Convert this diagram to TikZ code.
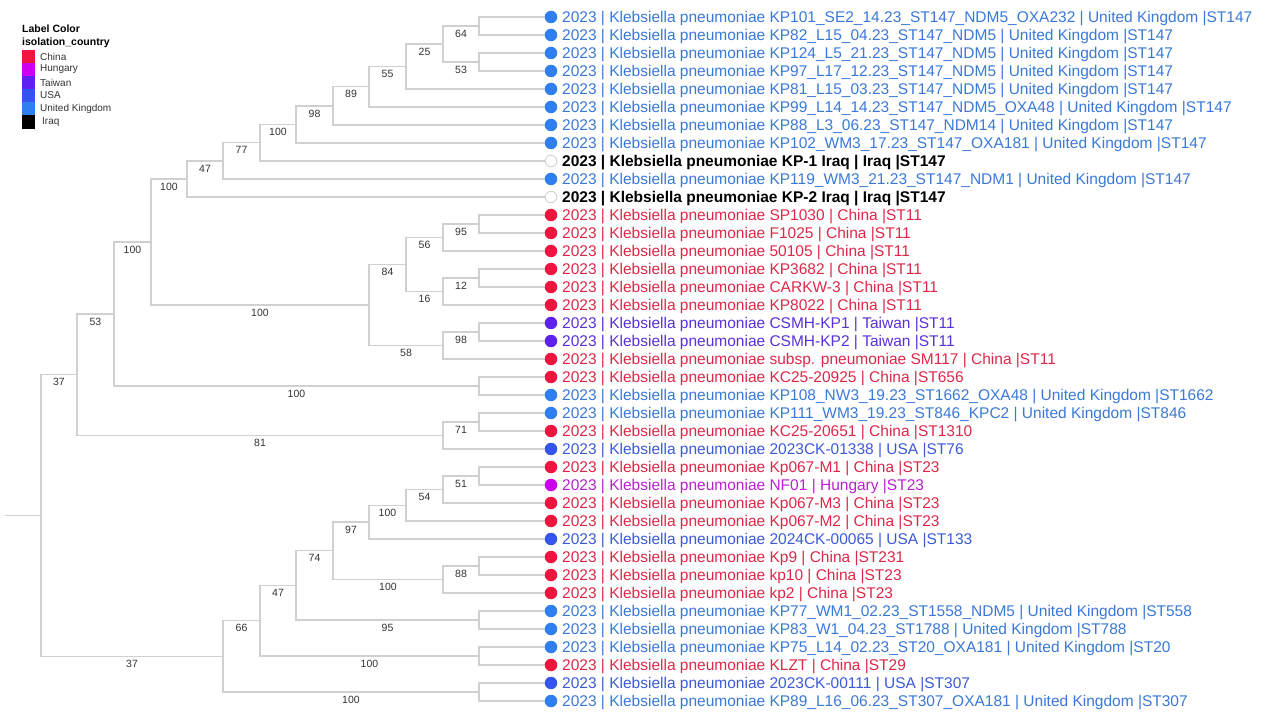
\documentclass[tikz,border=0pt]{standalone}
\usepackage{fontspec}
\setmainfont{Liberation Sans}
\usetikzlibrary{calc}
\pgfdeclarelayer{bg}
\pgfsetlayers{bg,main}
\definecolor{cnD}{HTML}{F01440}
\definecolor{cnT}{HTML}{DC2848}
\definecolor{huD}{HTML}{CC00EE}
\definecolor{huT}{HTML}{B820D0}
\definecolor{twD}{HTML}{6020F0}
\definecolor{twT}{HTML}{5A30D8}
\definecolor{usD}{HTML}{3355EE}
\definecolor{usT}{HTML}{3C5AD8}
\definecolor{ukD}{HTML}{2F7FF0}
\definecolor{ukT}{HTML}{3A78D8}
\definecolor{treegray}{HTML}{D0D0D0}
\definecolor{labgray}{HTML}{333333}
\tikzset{
  branch/.style={draw=treegray, line width=1.3pt},
  leafdot/.style={circle, inner sep=0pt, minimum size=12.5pt},
  leaftext/.style={anchor=west, inner sep=0pt, font=\fontsize{15.5}{18}\selectfont, text height=12pt, text depth=1pt},
  dotcn/.style={fill=cnD}, txtcn/.style={text=cnT},
  dothu/.style={fill=huD}, txthu/.style={text=huT},
  dottw/.style={fill=twD}, txttw/.style={text=twT},
  dotus/.style={fill=usD}, txtus/.style={text=usT},
  dotuk/.style={fill=ukD}, txtuk/.style={text=ukT},
  dotiq/.style={fill=white, draw=treegray, line width=0.8pt, minimum size=11.5pt},
  txtiq/.style={text=black, font=\fontsize{15.5}{18}\selectfont\bfseries},
  boot/.style={font=\fontsize{10.5}{12}\selectfont, text=labgray, midway, yshift=-7.5pt, inner sep=0pt},
  legtitle/.style={anchor=west, inner sep=0pt, font=\fontsize{10.5}{12}\selectfont\bfseries},
  legtext/.style={anchor=west, inner sep=0pt, font=\fontsize{10}{12}\selectfont, text=labgray},
  swatch/.style={draw=none, minimum width=13pt, minimum height=13pt, inner sep=0pt, anchor=north west},
}
\newcommand\mkleaf[4]{%
  \node[leafdot, dot#3] (#1) at (551,#2) {};
  \node[leaftext, txt#3] (#1t) at (562,#2) {2023 | Klebsiella pneumoniae #4};
}
\newcommand\clade[3]{%
  \begin{pgfonlayer}{bg}\draw[branch] (#2) -- (#1 |- #2) -- (#1 |- #3) -- (#3);\end{pgfonlayer}}
\newcommand\boot[3]{\path (#1 |- #2) -- (#2) node[boot] (bt#2) {#3};}
\begin{document}
\begin{tikzpicture}[x=1pt,y=-1pt]
\useasboundingbox (0,0) rectangle (1280,727);
% legend
\node[legtitle] (lt1) at (22,29) {Label Color};
\node[legtitle] (lt2) at (22,42.5) {isolation\_country};
\node[swatch, fill=cnD] (s1) at (22,50) {};
\node[swatch, fill=huD] (s2) at (22,63) {};
\node[swatch, fill=twD] (s3) at (22,76) {};
\node[swatch, fill=usD] (s4) at (22,89) {};
\node[swatch, fill=ukD] (s5) at (22,102) {};
\node[swatch, fill=black, minimum height=14pt] (s6) at (22,115) {};
\node[legtext] (g1) at (40,56.5) {China};
\node[legtext] (g2) at (40,69.5) {Hungary};
\node[legtext] (g3) at (40,82.5) {Taiwan};
\node[legtext] (g4) at (40,95.5) {USA};
\node[legtext] (g5) at (40,108.5) {United Kingdom};
\node[legtext] (g6) at (42,122) {Iraq};
% leaves
\mkleaf{L1}{17}{uk}{KP101\_SE2\_14.23\_ST147\_NDM5\_OXA232 | United Kingdom |ST147}
\mkleaf{L2}{35}{uk}{KP82\_L15\_04.23\_ST147\_NDM5 | United Kingdom |ST147}
\mkleaf{L3}{53}{uk}{KP124\_L5\_21.23\_ST147\_NDM5 | United Kingdom |ST147}
\mkleaf{L4}{71}{uk}{KP97\_L17\_12.23\_ST147\_NDM5 | United Kingdom |ST147}
\mkleaf{L5}{89}{uk}{KP81\_L15\_03.23\_ST147\_NDM5 | United Kingdom |ST147}
\mkleaf{L6}{107}{uk}{KP99\_L14\_14.23\_ST147\_NDM5\_OXA48 | United Kingdom |ST147}
\mkleaf{L7}{125}{uk}{KP88\_L3\_06.23\_ST147\_NDM14 | United Kingdom |ST147}
\mkleaf{L8}{143}{uk}{KP102\_WM3\_17.23\_ST147\_OXA181 | United Kingdom |ST147}
\mkleaf{L9}{161}{iq}{KP-1 Iraq | Iraq |ST147}
\mkleaf{L10}{179}{uk}{KP119\_WM3\_21.23\_ST147\_NDM1 | United Kingdom |ST147}
\mkleaf{L11}{197}{iq}{KP-2 Iraq | Iraq |ST147}
\mkleaf{L12}{215}{cn}{SP1030 | China |ST11}
\mkleaf{L13}{233}{cn}{F1025 | China |ST11}
\mkleaf{L14}{251}{cn}{50105 | China |ST11}
\mkleaf{L15}{269}{cn}{KP3682 | China |ST11}
\mkleaf{L16}{287}{cn}{CARKW-3 | China |ST11}
\mkleaf{L17}{305}{cn}{KP8022 | China |ST11}
\mkleaf{L18}{323}{tw}{CSMH-KP1 | Taiwan |ST11}
\mkleaf{L19}{341}{tw}{CSMH-KP2 | Taiwan |ST11}
\mkleaf{L20}{359}{cn}{subsp. pneumoniae SM117 | China |ST11}
\mkleaf{L21}{377}{cn}{KC25-20925 | China |ST656}
\mkleaf{L22}{395}{uk}{KP108\_NW3\_19.23\_ST1662\_OXA48 | United Kingdom |ST1662}
\mkleaf{L23}{413}{uk}{KP111\_WM3\_19.23\_ST846\_KPC2 | United Kingdom |ST846}
\mkleaf{L24}{431}{cn}{KC25-20651 | China |ST1310}
\mkleaf{L25}{449}{us}{2023CK-01338 | USA |ST76}
\mkleaf{L26}{467}{cn}{Kp067-M1 | China |ST23}
\mkleaf{L27}{485}{hu}{NF01 | Hungary |ST23}
\mkleaf{L28}{503}{cn}{Kp067-M3 | China |ST23}
\mkleaf{L29}{521}{cn}{Kp067-M2 | China |ST23}
\mkleaf{L30}{539}{us}{2024CK-00065 | USA |ST133}
\mkleaf{L31}{557}{cn}{Kp9 | China |ST231}
\mkleaf{L32}{575}{cn}{kp10 | China |ST23}
\mkleaf{L33}{593}{cn}{kp2 | China |ST23}
\mkleaf{L34}{611}{uk}{KP77\_WM1\_02.23\_ST1558\_NDM5 | United Kingdom |ST558}
\mkleaf{L35}{629}{uk}{KP83\_W1\_04.23\_ST1788 | United Kingdom |ST788}
\mkleaf{L36}{647}{uk}{KP75\_L14\_02.23\_ST20\_OXA181 | United Kingdom |ST20}
\mkleaf{L37}{665}{cn}{KLZT | China |ST29}
\mkleaf{L38}{683}{us}{2023CK-00111 | USA |ST307}
\mkleaf{L39}{701}{uk}{KP89\_L16\_06.23\_ST307\_OXA181 | United Kingdom |ST307}
% internal nodes
\coordinate (n1) at (479,26);
\coordinate (n2) at (479,62);
\coordinate (n3) at (443,44);
\coordinate (n4) at (406,66.5);
\coordinate (n5) at (369,86.75);
\coordinate (n6) at (333,105.9);
\coordinate (n7) at (296,124.4);
\coordinate (n8) at (260,142.7);
\coordinate (n9) at (223,160.9);
\coordinate (n10) at (187,179);
\coordinate (c1) at (479,224);
\coordinate (c2) at (443,237.5);
\coordinate (c3) at (479,278);
\coordinate (c4) at (443,291.5);
\coordinate (c5) at (406,264.5);
\coordinate (c6) at (479,332);
\coordinate (c7) at (443,345.5);
\coordinate (c8) at (369,305);
\coordinate (n11) at (151,242);
\coordinate (c9) at (479,386);
\coordinate (n12) at (114,314);
\coordinate (d1) at (479,422);
\coordinate (d2) at (443,435.5);
\coordinate (n13) at (77,374.75);
\coordinate (b1) at (479,476);
\coordinate (b2) at (443,489.5);
\coordinate (b3) at (406,505.25);
\coordinate (b4) at (369,522.1);
\coordinate (b5) at (479,566);
\coordinate (b6) at (443,579.5);
\coordinate (b7) at (333,550.8);
\coordinate (b8) at (479,620);
\coordinate (b9) at (296,585.4);
\coordinate (b10) at (479,656);
\coordinate (b11) at (260,620.7);
\coordinate (b12) at (479,692);
\coordinate (b13) at (223,656.3);
\coordinate (root) at (41,515.5);
\coordinate (stub) at (5,515.5);
% clades
\clade{n1}{L1}{L2}
\clade{n2}{L3}{L4}
\clade{n3}{n1}{n2}
\clade{n4}{n3}{L5}
\clade{n5}{n4}{L6}
\clade{n6}{n5}{L7}
\clade{n7}{n6}{L8}
\clade{n8}{n7}{L9}
\clade{n9}{n8}{L10}
\clade{n10}{n9}{L11}
\clade{c1}{L12}{L13}
\clade{c2}{c1}{L14}
\clade{c3}{L15}{L16}
\clade{c4}{c3}{L17}
\clade{c5}{c2}{c4}
\clade{c6}{L18}{L19}
\clade{c7}{c6}{L20}
\clade{c8}{c5}{c7}
\clade{n11}{n10}{c8}
\clade{c9}{L21}{L22}
\clade{n12}{n11}{c9}
\clade{d1}{L23}{L24}
\clade{d2}{d1}{L25}
\clade{n13}{n12}{d2}
\clade{b1}{L26}{L27}
\clade{b2}{b1}{L28}
\clade{b3}{b2}{L29}
\clade{b4}{b3}{L30}
\clade{b5}{L31}{L32}
\clade{b6}{b5}{L33}
\clade{b7}{b4}{b6}
\clade{b8}{L34}{L35}
\clade{b9}{b7}{b8}
\clade{b10}{L36}{L37}
\clade{b11}{b9}{b10}
\clade{b12}{L38}{L39}
\clade{b13}{b11}{b12}
\clade{root}{n13}{b13}
\begin{pgfonlayer}{bg}\draw[branch] (stub) -- (root);\end{pgfonlayer}
% bootstrap labels
\boot{n3}{n1}{64}
\boot{n3}{n2}{53}
\boot{n4}{n3}{25}
\boot{n5}{n4}{55}
\boot{n6}{n5}{89}
\boot{n7}{n6}{98}
\boot{n8}{n7}{100}
\boot{n9}{n8}{77}
\boot{n10}{n9}{47}
\boot{n11}{n10}{100}
\boot{c2}{c1}{95}
\boot{c5}{c2}{56}
\boot{c4}{c3}{12}
\boot{c5}{c4}{16}
\boot{c8}{c5}{84}
\boot{c7}{c6}{98}
\boot{c8}{c7}{58}
\boot{n11}{c8}{100}
\boot{n12}{n11}{100}
\boot{n12}{c9}{100}
\boot{n13}{n12}{53}
\boot{d2}{d1}{71}
\boot{n13}{d2}{81}
\boot{root}{n13}{37}
\boot{b2}{b1}{51}
\boot{b3}{b2}{54}
\boot{b4}{b3}{100}
\boot{b7}{b4}{97}
\boot{b6}{b5}{88}
\boot{b7}{b6}{100}
\boot{b9}{b7}{74}
\boot{b9}{b8}{95}
\boot{b11}{b9}{47}
\boot{b11}{b10}{100}
\boot{b13}{b11}{66}
\boot{b13}{b12}{100}
\boot{root}{b13}{37}
\end{tikzpicture}
\end{document}
